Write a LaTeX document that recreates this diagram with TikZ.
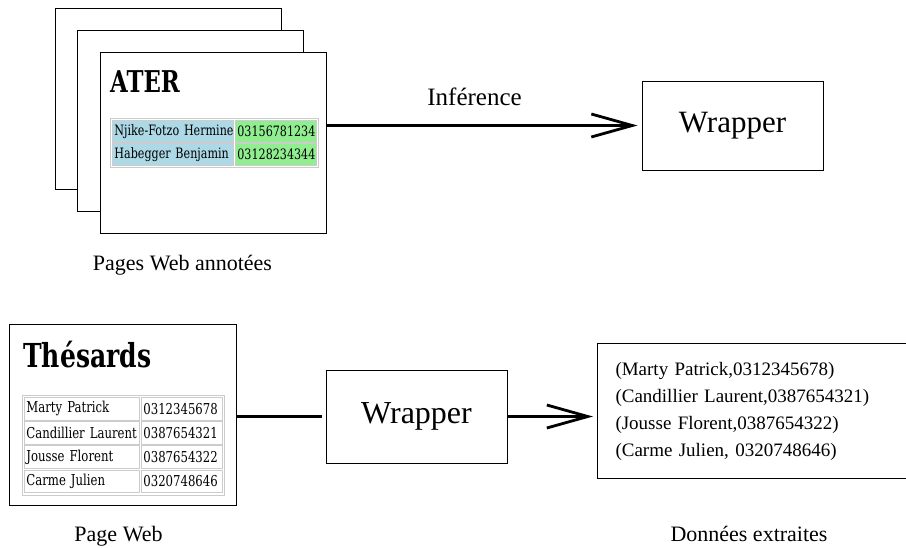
\documentclass[tikz,border=0pt]{standalone}
\usepackage{fontspec}
\setmainfont{Liberation Serif}
\newfontfamily\webfont[FakeStretch=0.78]{DejaVu Serif}
\newfontfamily\webtitle[FakeStretch=0.76]{DejaVu Serif}
\usetikzlibrary{arrows.meta,positioning}
\definecolor{cellblue}{RGB}{173,216,230}
\definecolor{cellgreen}{RGB}{144,238,144}
\tikzset{>={Straight Barb[length=41pt,width=23pt]},shorten >=4pt,node distance=2cm}
\tikzset{
  page/.style={draw,fill=white,line width=1pt,minimum width=226pt,minimum height=181pt,inner sep=0pt},
  box/.style={draw,line width=1pt,minimum width=181pt,inner sep=0pt,font=\fontsize{31}{31}\selectfont},
  cell/.style={draw=gray!40,line width=0.8pt,anchor=north west,inner xsep=2pt,inner ysep=0pt,
    minimum height=22pt,align=left,font=\webfont\fontsize{14.3}{14.3}\selectfont},
  titre/.style={anchor=base west,inner sep=0pt,font=\webtitle\bfseries\fontsize{30}{30}\selectfont},
  legende/.style={anchor=base,inner sep=0pt,font=\fontsize{22}{22}\selectfont},
  fleche/.style={->,line width=2.8pt}
}

\begin{document}
\begin{tikzpicture}[x=1pt,y=-1pt]
  \useasboundingbox (0,0) rectangle (906,547);
  % pages web annotees
  \node[page] (p1) at (168,98.5) {};
  \node[page] (p2) at (190,120.5) {};
  \node[page] (p3) at (213,143) {};
  \node[titre] (ater) at (110,92) {ATER};
  \node[draw=gray!40,line width=0.8pt,anchor=north west,minimum width=208pt,minimum height=49pt,inner sep=0pt] (t1) at (110,118) {};
  \node[cell,fill=cellblue,text width=117pt] (a1) at (112,120) {\mbox{Njike-Fotzo Hermine}};
  \node[cell,fill=cellgreen,text width=77pt] (b1) at (235,120) {\mbox{03156781234}};
  \node[cell,fill=cellblue,text width=117pt] (a2) at (112,143) {\mbox{Habegger Benjamin}};
  \node[cell,fill=cellgreen,text width=77pt] (b2) at (235,143) {\mbox{03128234344}};
  \node[legende] (lp) at (182.5,270) {Pages Web annotées};

  \node[box,minimum height=89pt] (w1) at (732.5,125.5) {Wrapper};
  \draw[fleche] (p3.east |- w1.west) -- (w1.west)
    node[pos=.47,above=18.5pt,inner sep=0pt,font=\fontsize{25}{25}\selectfont] (inf) {Inférence};

  % page web
  \node[page,minimum width=227pt] (web) at (122.5,414.5) {};
  \node[titre,font=\webtitle\bfseries\fontsize{33}{33}\selectfont] (these) at (23,367) {Thésards};
  \node[draw=gray!40,line width=0.8pt,anchor=north west,minimum width=202pt,minimum height=100pt,inner sep=0pt] (t2) at (22,395) {};
  \foreach \nom/\tel [count=\i from 0] in {Marty Patrick/0312345678,Candillier Laurent/0387654321,
      Jousse Florent/0387654322,Carme Julien/0320748646}{
    \node[cell,minimum height=22.5pt,text width=111pt,font=\webfont\fontsize{15}{15}\selectfont] (n\i) at (24,397+24.2*\i) {\mbox{\nom}};
    \node[cell,minimum height=22.5pt,text width=77pt,font=\webfont\fontsize{15}{15}\selectfont] (t\i) at (141,397+24.2*\i) {\mbox{\tel}};
  }
  \node[legende] (lw) at (118.5,541) {Page Web};

  \node[box,minimum height=93pt,font=\fontsize{32}{32}\selectfont] (w2) at (416.5,416.5) {Wrapper};
  \node[draw,line width=1pt,anchor=north west,minimum height=135pt,text width=330pt,inner xsep=18pt,
    align=left,font=\fontsize{19}{27}\selectfont] (donnees) at (597,343)
    {(Marty Patrick,0312345678)\\(Candillier Laurent,0387654321)\\(Jousse Florent,0387654322)\\(Carme Julien, 0320748646)};
  \node[legende] (ld) at (749,541) {Données extraites};

  \draw[line width=2.8pt] (web.east |- w2.west) -- (w2.west);
  \draw[fleche] (w2.east) -- (donnees.west |- w2.east);
\end{tikzpicture}
\end{document}
